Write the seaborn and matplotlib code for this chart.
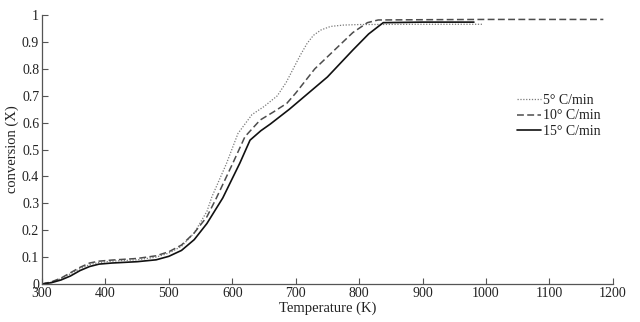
import matplotlib
matplotlib.use("Agg")
import matplotlib.pyplot as plt
import seaborn as sns
import pandas as pd

# ---- data ----
T5 = [300, 315, 330, 345, 360, 375, 390, 410, 450, 480, 500, 520, 540, 560, 568, 591,
      609, 631, 650, 671, 685, 696, 707, 718, 728, 740, 755, 775, 800, 900, 995]
X5 = [0.0, 0.007, 0.02, 0.038, 0.057, 0.072, 0.08, 0.085, 0.09, 0.1, 0.115, 0.14, 0.19,
      0.27, 0.325, 0.449, 0.56, 0.63, 0.66, 0.70, 0.75, 0.80, 0.85, 0.895, 0.925, 0.945,
      0.958, 0.963, 0.965, 0.966, 0.966]

T10 = [300, 315, 330, 345, 360, 375, 390, 410, 450, 480, 500, 520, 540, 560, 575, 601,
       620, 644, 665, 686, 700, 730, 750, 790, 813, 830, 900, 1000, 1100, 1185]
X10 = [0.0, 0.008, 0.022, 0.042, 0.062, 0.078, 0.085, 0.089, 0.095, 0.105, 0.12, 0.145,
       0.19, 0.25, 0.32, 0.45, 0.548, 0.61, 0.64, 0.672, 0.71, 0.80, 0.845, 0.935, 0.972,
       0.982, 0.983, 0.984, 0.984, 0.984]

T15 = [300, 315, 330, 345, 360, 375, 390, 410, 450, 480, 500, 520, 540, 560, 585, 612,
       628, 645, 660, 690, 715, 750, 770, 790, 815, 838, 900, 981]
X15 = [0.0, 0.005, 0.015, 0.03, 0.05, 0.065, 0.074, 0.078, 0.083, 0.09, 0.103, 0.125,
       0.165, 0.225, 0.32, 0.45, 0.535, 0.57, 0.595, 0.65, 0.70, 0.77, 0.82, 0.87, 0.93,
       0.972, 0.974, 0.974]

labels = ["5° C/min", "10° C/min", "15° C/min"]
xticks = [300, 400, 500, 600, 700, 800, 900, 1000, 1100, 1200]
yticks = [0, 0.1, 0.2, 0.3, 0.4, 0.5, 0.6, 0.7, 0.8, 0.9, 1]
ytick_labels = ["0", "0.1", "0.2", "0.3", "0.4", "0.5", "0.6", "0.7", "0.8", "0.9", "1"]

sns.set_style("ticks")
plt.rcParams["font.family"] = ["Liberation Serif", "DejaVu Serif"]
plt.rcParams["xtick.direction"] = "in"
plt.rcParams["ytick.direction"] = "in"

fig = plt.figure(figsize=(6.4, 3.22), dpi=100)
ax = fig.add_axes([0.0656, 0.118, 0.892, 0.835])

df5 = pd.DataFrame({"T": T5, "X": X5})
df10 = pd.DataFrame({"T": T10, "X": X10})
df15 = pd.DataFrame({"T": T15, "X": X15})

sns.lineplot(data=df5, x="T", y="X", ax=ax, color="#7a7a7a", lw=0.9,
             linestyle=(0, (1, 1.3)), label=labels[0])
sns.lineplot(data=df10, x="T", y="X", ax=ax, color="#4d4d4d", lw=1.1,
             linestyle=(0, (4.5, 2.2)), label=labels[1])
sns.lineplot(data=df15, x="T", y="X", ax=ax, color="#111111", lw=1.2,
             linestyle="-", label=labels[2])

ax.set_xlim(300, 1200)
ax.set_ylim(0, 1)
ax.set_xticks(xticks)
ax.set_yticks(yticks)
ax.set_yticklabels(ytick_labels)
ax.tick_params(labelsize=10, length=4, width=0.8, color="#555555", pad=2,
               labelcolor="#222222")
for s in ["top", "right"]:
    ax.spines[s].set_visible(False)
for s in ["left", "bottom"]:
    ax.spines[s].set_color("#555555")
    ax.spines[s].set_linewidth(0.9)

ax.set_xlabel("Temperature (K)", fontsize=10.5, color="#222222", labelpad=1)
ax.set_ylabel("conversion (X)", fontsize=10.5, color="#222222", labelpad=2)

ax.legend(loc="upper left", bbox_to_anchor=(0.832, 0.708), frameon=False,
          fontsize=10, handlelength=1.7, handletextpad=0.15, labelspacing=0.2,
          borderpad=0, borderaxespad=0, labelcolor="#222222")

fig.savefig("out.png", dpi=100)
